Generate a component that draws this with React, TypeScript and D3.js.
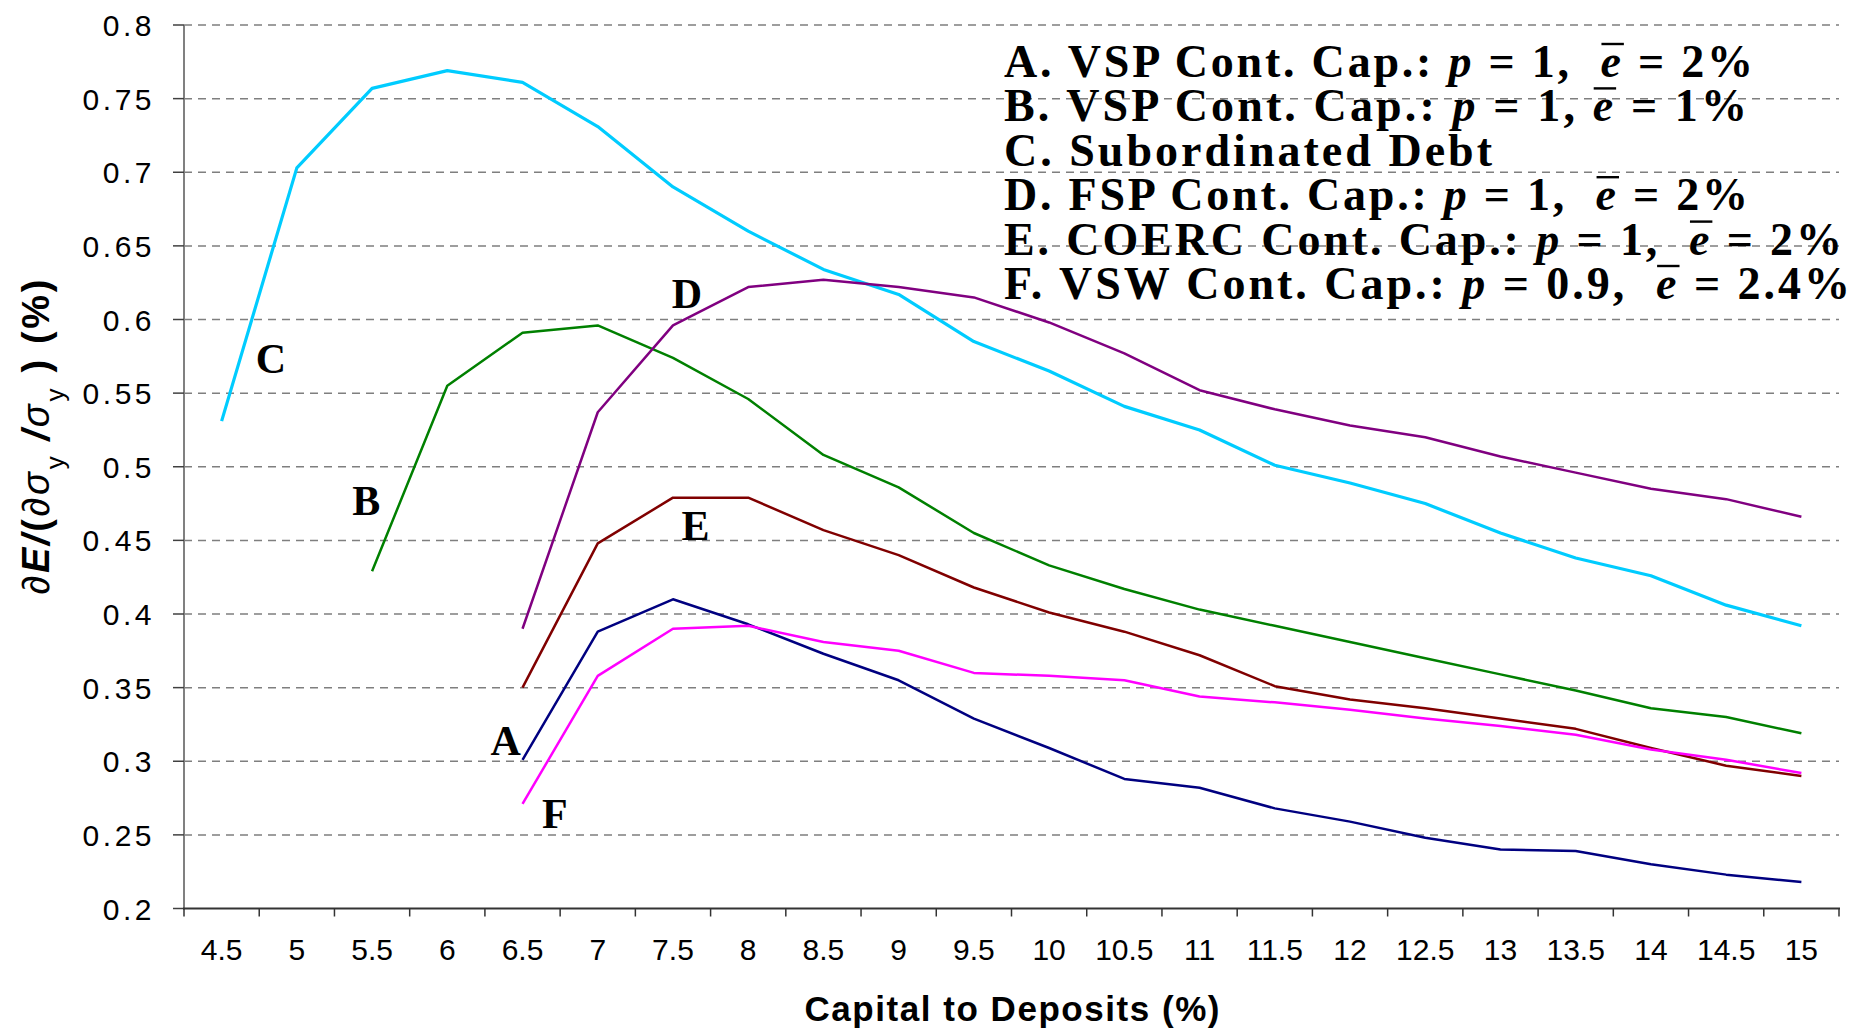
import React, { useEffect, useRef } from "react";
import * as d3 from "d3";

const categories = ["4.5","5","5.5","6","6.5","7","7.5","8","8.5","9","9.5","10","10.5","11","11.5","12","12.5","13","13.5","14","14.5","15"];
const yTickValues = [0.2, 0.25, 0.3, 0.35, 0.4, 0.45, 0.5, 0.55, 0.6, 0.65, 0.7, 0.75, 0.8];
const yTickLabels = ["0.2","0.25","0.3","0.35","0.4","0.45","0.5","0.55","0.6","0.65","0.7","0.75","0.8"];

const seriesA = [null,null,null,null,0.301,0.388,0.410,0.393,0.373,0.355,0.329,0.309,0.288,0.282,0.268,0.259,0.248,0.240,0.239,0.230,0.223,0.218];
const seriesB = [null,null,0.429,0.555,0.591,0.596,0.574,0.546,0.508,0.486,0.455,0.433,0.417,0.403,0.392,0.381,0.370,0.359,0.348,0.336,0.330,0.319];
const seriesC = [0.531,0.703,0.757,0.769,0.761,0.731,0.690,0.660,0.634,0.617,0.585,0.565,0.541,0.525,0.501,0.489,0.475,0.455,0.438,0.426,0.406,0.392];
const seriesD = [null,null,null,null,0.390,0.537,0.596,0.622,0.627,0.622,0.615,0.598,0.577,0.552,0.539,0.528,0.520,0.507,0.496,0.485,0.478,0.466];
const seriesE = [null,null,null,null,0.350,0.448,0.479,0.479,0.457,0.440,0.418,0.401,0.388,0.372,0.351,0.342,0.336,0.329,0.322,0.309,0.297,0.290];
const seriesF = [null,null,null,null,0.271,0.358,0.390,0.392,0.381,0.375,0.360,0.358,0.355,0.344,0.340,0.335,0.329,0.324,0.318,0.308,0.301,0.292];

const seriesList = [
  { key: "A", values: seriesA, color: "#000080", width: 2.5 },
  { key: "B", values: seriesB, color: "#008000", width: 2.5 },
  { key: "C", values: seriesC, color: "#00CCFF", width: 3.2 },
  { key: "D", values: seriesD, color: "#800080", width: 2.5 },
  { key: "E", values: seriesE, color: "#800000", width: 2.5 },
  { key: "F", values: seriesF, color: "#FF00FF", width: 2.5 },
];

// in-plot letter labels, in data space (category index, value)
const letterLabels = [
  { t: "C", idx: 1.156, v: 0.564 },
  { t: "B", idx: 2.422, v: 0.467 },
  { t: "D", idx: 6.686, v: 0.608 },
  { t: "E", idx: 6.799, v: 0.450 },
  { t: "A", idx: 4.277, v: 0.304 },
  { t: "F", idx: 4.931, v: 0.255 },
];

type Seg = { t: string; it?: boolean; bar?: boolean };
const legendLines: Seg[][] = [
  [{ t: "A. VSP Cont. Cap.: " }, { t: "p", it: true }, { t: " = 1,  " }, { t: "e", it: true, bar: true }, { t: " = 2%" }],
  [{ t: "B. VSP Cont. Cap.: " }, { t: "p", it: true }, { t: " = 1, " }, { t: "e", it: true, bar: true }, { t: " = 1%" }],
  [{ t: "C. Subordinated Debt" }],
  [{ t: "D. FSP Cont. Cap.: " }, { t: "p", it: true }, { t: " = 1,  " }, { t: "e", it: true, bar: true }, { t: " = 2%" }],
  [{ t: "E. COERC Cont. Cap.: " }, { t: "p", it: true }, { t: " = 1,  " }, { t: "e", it: true, bar: true }, { t: " = 2%" }],
  [{ t: "F. VSW Cont. Cap.: " }, { t: "p", it: true }, { t: " = 0.9,  " }, { t: "e", it: true, bar: true }, { t: " = 2.4%" }],
];
const legendEnds = [1753, 1747, 1492, 1748, 1842, 1850];

export default function App() {
  const ref = useRef<SVGSVGElement>(null);

  useEffect(() => {
    document.body.style.margin = "0";
    document.body.style.overflow = "hidden";
    const svg = d3.select(ref.current);
    svg.selectAll("*").remove();

    const left = 184, right = 1839, top = 25, bottom = 908.5;
    const x = d3.scaleBand<string>().domain(categories).range([left, right]);
    const bw = x.bandwidth();
    const cx = (c: string) => (x(c) as number) + bw / 2;
    const xi = d3.scaleLinear().domain([0, categories.length]).range([left, right]);
    const y = d3.scaleLinear().domain([0.2, 0.8]).range([bottom, top]);
    const sans = "'Liberation Sans', Arial, sans-serif";
    const serif = "'Liberation Serif', 'Times New Roman', serif";

    // gridlines
    svg.append("g").selectAll("line").data(yTickValues.filter((v) => v > 0.2)).join("line")
      .attr("x1", left).attr("x2", right)
      .attr("y1", (d) => y(d)).attr("y2", (d) => y(d))
      .attr("stroke", "#7f7f7f").attr("stroke-width", 1.5).attr("stroke-dasharray", "8,6");

    // y axis
    svg.append("line").attr("x1", left).attr("x2", left).attr("y1", top).attr("y2", bottom + 1)
      .attr("stroke", "#808080").attr("stroke-width", 2);
    svg.append("g").selectAll("line").data(yTickValues).join("line")
      .attr("x1", left - 11).attr("x2", left).attr("y1", (d) => y(d)).attr("y2", (d) => y(d))
      .attr("stroke", "#404040").attr("stroke-width", 1.5);
    svg.append("g").selectAll("text").data(yTickValues).join("text")
      .attr("x", 155).attr("y", (d) => y(d) + 11)
      .attr("text-anchor", "end").attr("font-family", sans).attr("font-size", 30)
      .attr("letter-spacing", 3.5).attr("fill", "#000")
      .text((d, i) => yTickLabels[i]);

    // x axis
    svg.append("line").attr("x1", left - 1).attr("x2", right + 1).attr("y1", bottom).attr("y2", bottom)
      .attr("stroke", "#333").attr("stroke-width", 2);
    svg.append("g").selectAll("line").data(d3.range(categories.length + 1)).join("line")
      .attr("x1", (i) => xi(i)).attr("x2", (i) => xi(i)).attr("y1", bottom).attr("y2", bottom + 8)
      .attr("stroke", "#333").attr("stroke-width", 1.5);
    svg.append("g").selectAll("text").data(categories).join("text")
      .attr("x", (c) => cx(c)).attr("y", 960).attr("text-anchor", "middle")
      .attr("font-family", sans).attr("font-size", 30).attr("fill", "#000").text((c) => c);

    // series lines
    const line = d3.line<number | null>()
      .defined((d) => d != null)
      .x((d, i) => cx(categories[i]))
      .y((d) => y(d as number));
    seriesList.forEach((s) => {
      svg.append("path").attr("d", line(s.values) as string).attr("fill", "none")
        .attr("stroke", s.color).attr("stroke-width", s.width).attr("stroke-linejoin", "round");
    });

    // letter labels
    svg.append("g").selectAll("text").data(letterLabels).join("text")
      .attr("x", (d) => xi(d.idx)).attr("y", (d) => y(d.v)).attr("text-anchor", "middle")
      .attr("font-family", serif).attr("font-weight", "bold").attr("font-size", 42).attr("fill", "#000")
      .text((d) => d.t);

    // legend
    const legendX = 1004;
    legendLines.forEach((segs, li) => {
      const by = 77 + li * 44.4;
      const t = svg.append("text").attr("x", legendX).attr("y", by)
        .attr("font-family", serif).attr("font-weight", "bold").attr("font-size", 46).attr("fill", "#000")
        .attr("textLength", legendEnds[li] - legendX).attr("lengthAdjust", "spacing")
        .attr("xml:space", "preserve").style("white-space", "pre");
      let idx = 0;
      const bars: number[] = [];
      segs.forEach((s) => {
        const ts = t.append("tspan").text(s.t);
        if (s.it) ts.attr("font-style", "italic");
        if (s.bar) bars.push(idx);
        idx += s.t.length;
      });
      const node = t.node() as SVGTextElement;
      bars.forEach((ci) => {
        const ext = node.getExtentOfChar(ci);
        svg.append("line").attr("x1", ext.x + 1).attr("x2", ext.x + ext.width + 3)
          .attr("y1", by - 33).attr("y2", by - 33).attr("stroke", "#000").attr("stroke-width", 2.4);
      });
    });

    // x title
    svg.append("text").attr("x", 1012).attr("y", 1021).attr("text-anchor", "middle")
      .attr("font-family", sans).attr("font-weight", "bold").attr("font-size", 35)
      .attr("textLength", 415).attr("fill", "#000").text("Capital to Deposits (%)");

    // y title
    const yt = svg.append("text").attr("transform", "translate(49,437) rotate(-90)")
      .attr("text-anchor", "middle").attr("font-family", sans).attr("font-weight", "bold")
      .attr("font-size", 38).attr("textLength", 315).attr("fill", "#000")
      .style("white-space", "pre");
    yt.append("tspan").attr("font-weight", "normal").text("\u2202");
    yt.append("tspan").attr("font-style", "italic").text("E/");
    yt.append("tspan").text("(");
    yt.append("tspan").attr("font-weight", "normal").text("\u2202");
    yt.append("tspan").attr("font-style", "italic").attr("font-weight", "normal").text("\u03c3");
    yt.append("tspan").attr("font-size", 26).attr("font-weight", "normal").attr("baseline-shift", "sub").text("y");
    yt.append("tspan").attr("font-style", "italic").text(" /");
    yt.append("tspan").attr("font-style", "italic").attr("font-weight", "normal").text("\u03c3");
    yt.append("tspan").attr("font-size", 26).attr("font-weight", "normal").attr("baseline-shift", "sub").text("y");
    yt.append("tspan").text(" ) (%)");

    // page number (mostly cut off at the bottom edge, as in the source slide)
    svg.append("text").attr("x", 1805).attr("y", 1051).attr("text-anchor", "middle")
      .attr("font-family", sans).attr("font-size", 30).attr("fill", "#000").text("16");
  }, []);

  return <svg ref={ref} width={1860} height={1030} style={{ display: "block", background: "#fff" }} />;
}
